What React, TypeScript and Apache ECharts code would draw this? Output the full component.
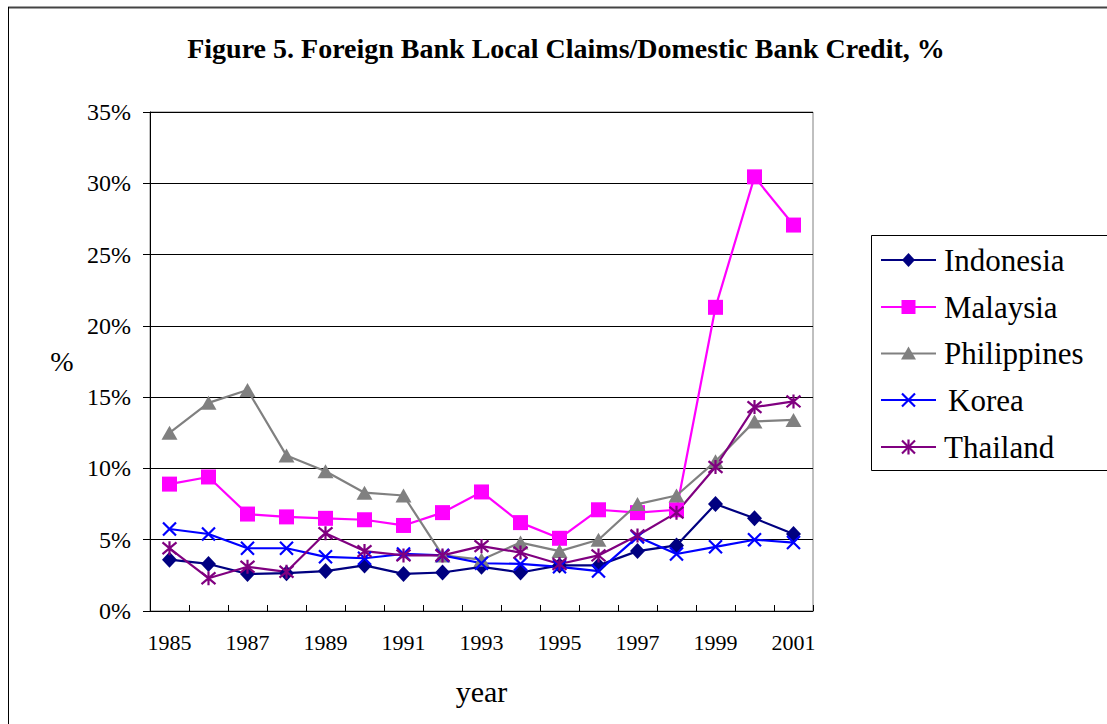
import React, { useEffect, useRef } from "react";
import * as echarts from "echarts";

const years = ["1985","1986","1987","1988","1989","1990","1991","1992","1993","1994","1995","1996","1997","1998","1999","2000","2001"];
const indonesia = [3.6, 3.3, 2.6, 2.65, 2.8, 3.2, 2.6, 2.7, 3.1, 2.7, 3.2, 3.2, 4.2, 4.6, 7.5, 6.5, 5.4];
const malaysia = [8.9, 9.4, 6.8, 6.6, 6.5, 6.4, 6.0, 6.9, 8.35, 6.2, 5.1, 7.1, 6.9, 7.1, 21.3, 30.45, 27.07];
const philippines = [12.5, 14.6, 15.5, 10.9, 9.8, 8.3, 8.1, 3.9, 3.6, 4.8, 4.2, 5.0, 7.5, 8.1, 10.5, 13.3, 13.4];
const korea = [5.75, 5.4, 4.4, 4.4, 3.8, 3.7, 4.0, 3.9, 3.35, 3.3, 3.1, 2.8, 5.2, 4.0, 4.5, 5.0, 4.8];
const thailand = [4.4, 2.3, 3.1, 2.75, 5.45, 4.2, 3.9, 3.9, 4.55, 4.1, 3.3, 3.9, 5.3, 6.9, 10.1, 14.3, 14.7];

const seriesNames = ["Indonesia", "Malaysia", "Philippines", "Korea", "Thailand"];
const seriesColors = ["#000080", "#FF00FF", "#808080", "#0000FF", "#800080"];

const FONT = "Liberation Serif";

function legendMarker(kind: string, cx: number, cy: number, color: string): any[] {
  if (kind === "diamond") {
    return [{ type: "polygon", shape: { points: [[cx, cy - 7], [cx + 6.5, cy], [cx, cy + 7], [cx - 6.5, cy]] }, style: { fill: color } }];
  }
  if (kind === "rect") {
    return [{ type: "rect", shape: { x: cx - 7, y: cy - 7, width: 14, height: 14 }, style: { fill: color } }];
  }
  if (kind === "triangle") {
    return [{ type: "polygon", shape: { points: [[cx, cy - 7], [cx + 7.5, cy + 6], [cx - 7.5, cy + 6]] }, style: { fill: color } }];
  }
  const s = 6.5;
  const out: any[] = [
    { type: "line", shape: { x1: cx - s, y1: cy - s, x2: cx + s, y2: cy + s }, style: { stroke: color, lineWidth: 2.2 } },
    { type: "line", shape: { x1: cx + s, y1: cy - s, x2: cx - s, y2: cy + s }, style: { stroke: color, lineWidth: 2.2 } },
  ];
  if (kind === "star") {
    out.push({ type: "line", shape: { x1: cx, y1: cy - s - 1, x2: cx, y2: cy + s + 1 }, style: { stroke: color, lineWidth: 2.2 } });
  }
  return out;
}

export default function App() {
  const ref = useRef<HTMLDivElement>(null);
  useEffect(() => {
    if (!ref.current) return;
    const chart = echarts.init(ref.current, null, { renderer: "svg" });
    const mk = (name: string, data: number[], color: string, symbol: string, size: number | number[], stroke = false) => ({
      name,
      type: "line",
      data,
      symbol,
      symbolSize: size,
      showSymbol: true,
      lineStyle: { color, width: 2.2 },
      itemStyle: stroke
        ? { color, borderColor: color, borderWidth: 2.2 }
        : { color, borderWidth: 0 },
      emphasis: { disabled: true },
    });

    const kinds = ["diamond", "rect", "triangle", "cross", "star"];
    const legendYs = [260, 307, 353.5, 400, 447];
    const legendGraphics: any[] = [
      { type: "rect", shape: { x: 871.5, y: 235.5, width: 250, height: 235 }, style: { fill: "#fff", stroke: "#000", lineWidth: 1 } },
    ];
    seriesNames.forEach((n, i) => {
      const cy = legendYs[i];
      legendGraphics.push({ type: "line", shape: { x1: 881, y1: cy, x2: 936, y2: cy }, style: { stroke: seriesColors[i], lineWidth: 2.2 } });
      legendGraphics.push(...legendMarker(kinds[i], 908.5, cy, seriesColors[i]));
      legendGraphics.push({
        type: "text",
        x: n === "Korea" ? 948 : 944,
        y: cy,
        style: { text: n, fontFamily: FONT, fontSize: 31, fill: "#000", verticalAlign: "middle" },
      });
    });

    chart.setOption({
      animation: false,
      textStyle: { fontFamily: FONT },
      title: {
        text: "Figure 5. Foreign Bank Local Claims/Domestic Bank Credit, %",
        left: 561,
        top: 29,
        textAlign: "center",
        textStyle: { fontFamily: FONT, fontWeight: "bold", fontSize: 28, color: "#000" },
      },
      legend: { show: false, data: seriesNames },
      grid: {
        left: 150,
        top: 112,
        right: 294,
        bottom: 113,
        show: true,
        borderColor: "#808080",
        borderWidth: 1,
      },
      xAxis: {
        type: "category",
        data: years,
        boundaryGap: true,
        name: "year",
        nameLocation: "middle",
        nameGap: 65,
        nameTextStyle: { fontFamily: FONT, fontSize: 30, color: "#000" },
        axisLine: { lineStyle: { color: "#000", width: 1 } },
        axisTick: { show: true, inside: true, length: 6, interval: 0, lineStyle: { color: "#000" } },
        axisLabel: { interval: 1, fontFamily: FONT, fontSize: 22, color: "#000", margin: 20 },
        splitLine: { show: false },
      },
      yAxis: {
        type: "value",
        min: 0,
        max: 35,
        interval: 5,
        name: "%",
        nameLocation: "middle",
        nameRotate: 0,
        nameGap: 88,
        nameTextStyle: { fontFamily: FONT, fontSize: 28, color: "#000", align: "center", verticalAlign: "middle" },
        axisLine: { show: true, lineStyle: { color: "#000", width: 1 } },
        axisTick: { show: true, inside: false, length: 7, lineStyle: { color: "#000" } },
        axisLabel: { formatter: "{value}%", fontFamily: FONT, fontSize: 24, color: "#000", margin: 19 },
        splitLine: { show: true, lineStyle: { color: "#000", width: 1 } },
      },
      graphic: [
        { type: "line", shape: { x1: 8, y1: 7.5, x2: 1107, y2: 7.5 }, style: { stroke: "#444", lineWidth: 2 } },
        { type: "line", shape: { x1: 8.5, y1: 7, x2: 8.5, y2: 724 }, style: { stroke: "#000", lineWidth: 1 } },
        ...legendGraphics,
      ],
      series: [
        mk(seriesNames[0], indonesia, seriesColors[0], "diamond", [15, 16]),
        mk(seriesNames[1], malaysia, seriesColors[1], "rect", 15),
        mk(seriesNames[2], philippines, seriesColors[2], "triangle", [16, 14]),
        mk(seriesNames[3], korea, seriesColors[3], "path://M0,0L10,10M10,0L0,10", 13, true),
        mk(seriesNames[4], thailand, seriesColors[4], "path://M0,0L10,10M10,0L0,10M5,-1L5,11", 14, true),
      ],
    });
    return () => chart.dispose();
  }, []);
  return (
    <div
      ref={ref}
      style={{ position: "fixed", left: 0, top: 0, width: 1107, height: 724, background: "#fff" }}
    />
  );
}
